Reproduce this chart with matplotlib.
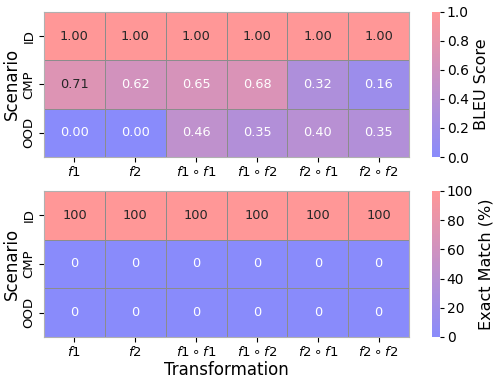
import matplotlib
matplotlib.use("Agg")
import matplotlib.pyplot as plt
import numpy as np
import seaborn as sns
from matplotlib.colors import LinearSegmentedColormap

# data
scenarios = ["ID", "CMP", "OOD"]
transforms = [r"$f1$", r"$f2$", r"$f1 \circ f1$", r"$f1 \circ f2$", r"$f2 \circ f1$", r"$f2 \circ f2$"]
bleu = np.array([[1.00, 1.00, 1.00, 1.00, 1.00, 1.00],
                 [0.71, 0.62, 0.65, 0.68, 0.32, 0.16],
                 [0.00, 0.00, 0.46, 0.35, 0.40, 0.35]])
exact = np.array([[100, 100, 100, 100, 100, 100],
                  [0, 0, 0, 0, 0, 0],
                  [0, 0, 0, 0, 0, 0]])

cmap = LinearSegmentedColormap.from_list("bp", ["#898bfb", "#ff9797"])

fig = plt.figure(figsize=(4.98, 3.82), dpi=100)
ax1 = fig.add_axes([0.0884, 0.589, 0.733, 0.380])
cax1 = fig.add_axes([0.867, 0.589, 0.016, 0.380])
ax2 = fig.add_axes([0.0884, 0.118, 0.733, 0.382])
cax2 = fig.add_axes([0.867, 0.118, 0.016, 0.382])


def draw(ax, cax, data, vmax, fmt, cbar_label, xlabel):
    sns.heatmap(data, ax=ax, cbar_ax=cax, cmap=cmap, vmin=0, vmax=vmax,
                linewidths=0.6, linecolor="#8c8c8c", annot=False,
                xticklabels=transforms, yticklabels=scenarios)
    for i in range(data.shape[0]):
        for j in range(data.shape[1]):
            v = data[i, j]
            c = "#262626" if v / vmax > 0.7 else "white"
            ax.text(j + 0.5, i + 0.5, format(v, fmt), ha="center", va="center",
                    fontsize=9.3, color=c)
    ax.set_ylabel("Scenario", fontsize=12, labelpad=1)
    ax.set_xlabel(xlabel, fontsize=12, labelpad=1)
    ax.tick_params(axis="both", labelsize=9.5, pad=2.5)
    ax.set_yticklabels(scenarios, rotation=90, va="center")
    ax.set_xticklabels(transforms, rotation=0)
    for side in ["top", "right", "left", "bottom"]:
        ax.spines[side].set_visible(True)
        ax.spines[side].set_color("#b0b0b0")
        ax.spines[side].set_linewidth(0.8)
    cax.tick_params(labelsize=10, pad=2, length=3)
    cax.set_ylabel(cbar_label, fontsize=11.5, labelpad=4)


draw(ax1, cax1, bleu, 1.0, ".2f", "BLEU Score", "")
draw(ax2, cax2, exact, 100, "d", "Exact Match (%)", "Transformation")
cax1.set_yticks([0, 0.2, 0.4, 0.6, 0.8, 1.0])
cax2.set_yticks([0, 20, 40, 60, 80, 100])

fig.savefig("out.png", dpi=100)
